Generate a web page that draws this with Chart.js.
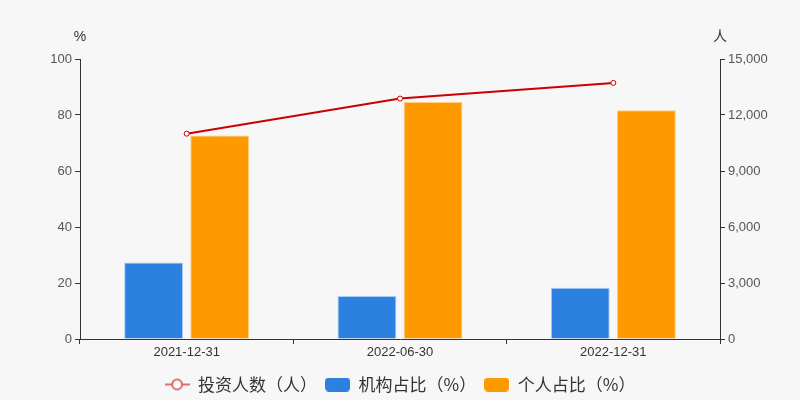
<!DOCTYPE html>
<html>
<head>
<meta charset="utf-8">
<script src="https://cdn.jsdelivr.net/npm/chart.js@4"></script>
<style>
html,body{margin:0;padding:0;background:#f7f7f7;}
#wrap{width:800px;height:400px;}
</style>
</head>
<body>
<div id="wrap"><canvas id="c" width="800" height="400"></canvas></div>
<script>
const categories = ['2021-12-31', '2022-06-30', '2022-12-31'];
const investors = [11000, 12880, 13720];
const institutionPct = [27.3, 15.4, 18.3];
const individualPct = [72.7, 84.6, 81.7];
const leftTicks = [0, 20, 40, 60, 80, 100];
const rightTicks = [0, 3000, 6000, 9000, 12000, 15000];

function markerCanvas(kind, color) {
  const cv = document.createElement('canvas');
  cv.width = 25; cv.height = 14;
  const g = cv.getContext('2d');
  if (kind === 'line') {
    g.strokeStyle = color; g.lineWidth = 1.5;
    g.beginPath(); g.moveTo(0, 7); g.lineTo(25, 7); g.stroke();
    g.fillStyle = '#ffffff';
    g.beginPath(); g.arc(12.5, 7, 5, 0, Math.PI * 2); g.fill(); g.stroke();
  } else {
    g.fillStyle = color;
    const r = 4, w = 25, h = 14;
    g.beginPath();
    g.moveTo(r, 0); g.lineTo(w - r, 0); g.quadraticCurveTo(w, 0, w, r);
    g.lineTo(w, h - r); g.quadraticCurveTo(w, h, w - r, h);
    g.lineTo(r, h); g.quadraticCurveTo(0, h, 0, h - r);
    g.lineTo(0, r); g.quadraticCurveTo(0, 0, r, 0);
    g.fill();
  }
  return cv;
}
const legendMarkers = [
  markerCanvas('line', '#d94040'),
  markerCanvas('rect', '#2c80e0'),
  markerCanvas('rect', '#ff9900')
];

const axisTitles = {
  id: 'axisTitles',
  afterLayout(chart) {
    if (chart.legend) { chart.legend.top += 3; chart.legend.bottom += 3; }
  },
  afterDraw(chart) {
    const ctx = chart.ctx;
    ctx.save();
    ctx.fillStyle = '#333';
    ctx.font = '14px "Liberation Sans", "Noto Sans CJK SC", sans-serif';
    ctx.textAlign = 'center';
    ctx.textBaseline = 'middle';
    ctx.fillText('%', chart.scales.y.right, 37);
    ctx.fillText('人', chart.scales.y1.left, 37);
    ctx.restore();
  }
};

const tickFont = { family: '"Liberation Sans", Arial, sans-serif', size: 13 };

new Chart(document.getElementById('c'), {
  type: 'bar',
  data: {
    labels: categories,
    datasets: [
      {
        type: 'line', label: '投资人数（人）', data: investors, yAxisID: 'y1',
        borderColor: '#cc0000', borderWidth: 2, backgroundColor: '#ffffff',
        pointRadius: 2.5, pointBorderWidth: 1, pointBackgroundColor: '#ffffff', pointBorderColor: '#cc0000',
        pointStyle: 'circle', tension: 0
      },
      {
        label: '机构占比（%）', data: institutionPct, yAxisID: 'y',
        backgroundColor: '#2c80e0', borderColor: 'rgba(160,200,245,0.9)', borderWidth: 1
      },
      {
        label: '个人占比（%）', data: individualPct, yAxisID: 'y',
        backgroundColor: '#ff9900', borderColor: 'rgba(255,200,120,0.9)', borderWidth: 1
      }
    ]
  },
  options: {
    responsive: false,
    animation: false,
    layout: { padding: { top: 59, left: 0, right: 0, bottom: 0 } },
    datasets: { bar: { categoryPercentage: 0.62, barPercentage: 0.89 } },
    plugins: {
      tooltip: { enabled: false },
      legend: {
        position: 'bottom',
        labels: {
          usePointStyle: true, pointStyleWidth: 25, boxHeight: 14,
          color: '#333', padding: 8,
          font: { family: '"Noto Sans CJK SC", sans-serif', size: 17 },
          generateLabels(chart) {
            const items = Chart.defaults.plugins.legend.labels.generateLabels(chart);
            items.forEach(it => { it.pointStyle = legendMarkers[it.datasetIndex]; });
            return items;
          }
        }
      }
    },
    scales: {
      x: {
        grid: { drawOnChartArea: false, drawTicks: true, tickLength: 5, color: '#333', offset: true },
        border: { display: true, color: '#333', width: 1 },
        ticks: { color: '#333', font: tickFont, padding: 1 },
        afterFit(s) { s.height = 26; }
      },
      y: {
        position: 'left', min: 0, max: 100,
        afterBuildTicks(s) { s.ticks = leftTicks.map(v => ({ value: v })); },
        grid: { drawOnChartArea: false, tickLength: 5, color: '#333' },
        border: { display: true, color: '#333', width: 1 },
        ticks: { color: '#555', font: tickFont, padding: 3 },
        afterFit(s) { s.width = 80; }
      },
      y1: {
        position: 'right', min: 0, max: 15000,
        afterBuildTicks(s) { s.ticks = rightTicks.map(v => ({ value: v })); },
        grid: { drawOnChartArea: false, tickLength: 5, color: '#333' },
        border: { display: true, color: '#333', width: 1 },
        ticks: { color: '#555', font: tickFont, padding: 3,
          callback: v => v.toLocaleString('en-US') },
        afterFit(s) { s.width = 80; }
      }
    }
  },
  plugins: [axisTitles]
});
</script>
</body>
</html>
